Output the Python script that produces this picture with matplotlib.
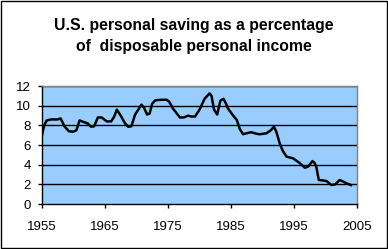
import matplotlib
matplotlib.use("Agg")
import matplotlib.pyplot as plt
from matplotlib.patches import Rectangle

plt.rcParams['font.family'] = ['Liberation Sans', 'DejaVu Sans']

# readings (year, saving rate %)
years = [1955.0, 1955.4, 1955.8, 1956.5, 1957.5, 1958.0, 1958.6, 1959.3, 1960.0, 1960.5,
         1961.0, 1961.8, 1962.3, 1962.8, 1963.3, 1963.9, 1964.5, 1965.3, 1966.0, 1966.5,
         1966.9, 1967.5, 1968.2, 1968.7, 1969.2, 1969.8, 1970.8, 1971.2, 1971.7, 1972.1,
         1972.5, 1973.0, 1974.0, 1974.8, 1975.2, 1975.8, 1976.9, 1977.5, 1978.2, 1978.7,
         1979.3, 1980.0, 1980.8, 1981.6, 1981.9, 1982.3, 1982.8, 1983.3, 1983.8, 1984.2,
         1984.5, 1985.2, 1985.9, 1986.4, 1986.9, 1987.5, 1988.2, 1989.0, 1989.5, 1990.6,
         1991.3, 1991.8, 1992.2, 1992.7, 1993.2, 1993.8, 1994.8, 1995.8, 1996.7, 1997.2,
         1997.9, 1998.2, 1998.5, 1998.9, 1999.5, 2000.1, 2000.9, 2001.5, 2002.2, 2002.7,
         2003.3, 2004.0]
saving = [6.9, 8.0, 8.5, 8.6, 8.6, 8.7, 7.9, 7.4, 7.35, 7.5,
          8.5, 8.3, 8.2, 7.86, 7.9, 8.8, 8.8, 8.4, 8.4, 8.9,
          9.6, 9.0, 8.2, 7.86, 7.9, 9.1, 10.1, 9.8, 9.1, 9.2,
          10.2, 10.55, 10.6, 10.6, 10.4, 9.7, 8.8, 8.8, 8.98, 8.9,
          8.9, 9.6, 10.7, 11.25, 11.0, 9.6, 9.1, 10.5, 10.7, 10.2,
          9.73, 9.1, 8.55, 7.6, 7.1, 7.2, 7.3, 7.15, 7.09, 7.19,
          7.5, 7.86, 7.3, 6.17, 5.4, 4.81, 4.65, 4.2, 3.69, 3.8,
          4.37, 4.2, 3.79, 2.44, 2.4, 2.34, 1.93, 2.0, 2.44, 2.3,
          2.1, 1.93]

x_ticks = [1955, 1965, 1975, 1985, 1995, 2005]
y_ticks = [0, 2, 4, 6, 8, 10, 12]

fig = plt.figure(figsize=(3.88, 2.49), dpi=100)
ax = fig.add_axes([0.1075, 0.1807, 0.8134, 0.4739])
ax.set_facecolor('#99CCFF')

for y in y_ticks[1:]:
    ax.axhline(y, color='black', lw=1.0, zorder=1)
ax.plot(years, saving, color='black', lw=1.8, zorder=3)

ax.set_xlim(1955, 2005)
ax.set_ylim(0, 12)
ax.set_xticks(x_ticks)
ax.set_yticks(y_ticks)
ax.tick_params(labelsize=9.5, length=3, width=1, color='black')
ax.tick_params(axis='x', pad=9)
ax.tick_params(axis='y', pad=5)
for s in ax.spines.values():
    s.set_color('#808080')
    s.set_linewidth(1)
ax.spines['left'].set_color('black')
ax.spines['bottom'].set_color('black')

fig.text(0.5, 0.898, "U.S. personal saving as a percentage", ha='center', va='center',
         fontsize=11.3, fontweight='bold')
fig.text(0.5, 0.813, "of  disposable personal income", ha='center', va='center',
         fontsize=11.3, fontweight='bold')

fig.patches.append(Rectangle((0.002, 0.004), 0.995, 0.992, transform=fig.transFigure,
                             fill=False, edgecolor='black', lw=1))

fig.savefig('out.png', dpi=100)
